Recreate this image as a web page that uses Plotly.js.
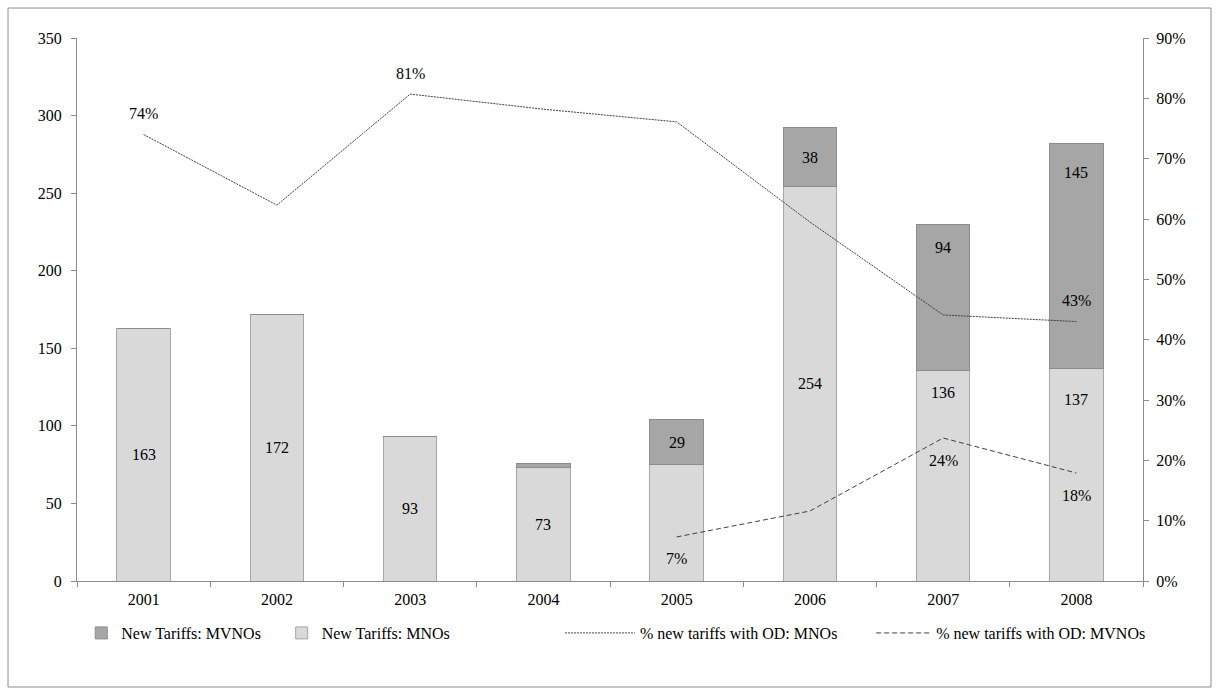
<!DOCTYPE html>
<html>
<head>
<meta charset="utf-8">
<script src="https://cdn.plot.ly/plotly-3.0.1.min.js"></script>
<style>
  html, body { margin: 0; padding: 0; background: #ffffff; }
  #chart { width: 1219px; height: 695px; }
</style>
</head>
<body>
<div id="chart"></div>
<script>
// ---- data ----
const years = ['2001', '2002', '2003', '2004', '2005', '2006', '2007', '2008'];
const mnoTariffs = [163, 172, 93, 73, 75, 254, 136, 137];
const mvnoTariffs = [0, 0, 0, 3, 29, 38, 94, 145];
const mnoBarLabelShown = [true, true, true, true, false, true, true, true];
const mvnoBarLabelShown = [false, false, false, false, true, true, true, true];
const pctOdMno = [0.74, 0.623, 0.807, 0.782, 0.761, 0.595, 0.441, 0.43];
const pctOdMvno = [null, null, null, null, 0.073, 0.116, 0.237, 0.179];
const pctMnoLabelShown = [true, false, true, false, false, false, false, true];
const pctMvnoLabelShown = [false, false, false, false, true, false, true, true];

// label offsets (pixels) for bar value labels that were moved in the original
const mnoLabelShiftPx = [0, 0, 0, 0, 0, 0, 83, 75];
const mvnoLabelShiftPx = [0, 0, 0, 0, 0, 0, 50, 83];

const FONT = 'Liberation Serif';
const AXIS_GREY = '#8c8c8c';
const TXT = { family: FONT, size: 16, color: '#000' };

const fmtPct = v => Math.round(v * 100) + '%';

const traces = [
  {
    type: 'bar', name: 'New Tariffs: MNOs', x: years, y: mnoTariffs,
    marker: { color: '#d9d9d9', line: { color: '#a6a6a6', width: 1 } },
    legend: 'legend2', hoverinfo: 'x+y'
  },
  {
    type: 'bar', name: 'New Tariffs: MVNOs', x: years, y: mvnoTariffs,
    marker: { color: '#a6a6a6', line: { color: '#8c8c8c', width: 1 } },
    legend: 'legend', hoverinfo: 'x+y'
  },
  {
    type: 'scatter', mode: 'lines', name: '% new tariffs with OD: MNOs',
    x: years, y: pctOdMno, yaxis: 'y2',
    line: { color: '#404040', width: 1, dash: '2px,1px' },
    legend: 'legend3'
  },
  {
    type: 'scatter', mode: 'lines', name: '% new tariffs with OD: MVNOs',
    x: years, y: pctOdMvno, yaxis: 'y2', connectgaps: false,
    line: { color: '#404040', width: 1, dash: '5px,3px' },
    legend: 'legend4'
  }
];

const annotations = [];
years.forEach((yr, i) => {
  if (mnoBarLabelShown[i]) {
    annotations.push({ x: i, y: mnoTariffs[i] / 2, xref: 'x', yref: 'y', text: String(mnoTariffs[i]),
      showarrow: false, yshift: mnoLabelShiftPx[i], font: TXT });
  }
  if (mvnoBarLabelShown[i]) {
    annotations.push({ x: i, y: mnoTariffs[i] + mvnoTariffs[i] / 2, xref: 'x', yref: 'y', text: String(mvnoTariffs[i]),
      showarrow: false, yshift: mvnoLabelShiftPx[i], font: TXT });
  }
  if (pctMnoLabelShown[i]) {
    annotations.push({ x: i, y: pctOdMno[i], xref: 'x', yref: 'y2', text: fmtPct(pctOdMno[i]),
      showarrow: false, yshift: 21, font: TXT });
  }
  if (pctMvnoLabelShown[i]) {
    annotations.push({ x: i, y: pctOdMvno[i], xref: 'x', yref: 'y2', text: fmtPct(pctOdMvno[i]),
      showarrow: false, yshift: -22, font: TXT });
  }
});

const legendBase = (x, itemwidth) => ({
  orientation: 'h', x: x, xanchor: 'left', y: -0.0958, yanchor: 'middle',
  bgcolor: 'rgba(0,0,0,0)', itemwidth: itemwidth, font: TXT
});

const layout = {
  width: 1219, height: 695,
  margin: { l: 77, r: 76, t: 38, b: 114 },
  paper_bgcolor: '#ffffff', plot_bgcolor: '#ffffff',
  font: TXT,
  barmode: 'stack', bargap: 0.6,
  showlegend: true,
  legend: legendBase(0.004, 30),
  legend2: legendBase(0.192, 30),
  legend3: legendBase(0.453, 70),
  legend4: legendBase(0.745, 55),
  xaxis: {
    type: 'category', range: [-0.5, years.length - 0.5], autorange: false,
    showline: true, linecolor: AXIS_GREY, linewidth: 1,
    ticks: 'outside', tickson: 'boundaries', ticklen: 5, tickcolor: AXIS_GREY,
    ticklabelstandoff: 4,
    showgrid: false, zeroline: false, tickfont: TXT
  },
  yaxis: {
    range: [0, 350], dtick: 50, showline: true, linecolor: AXIS_GREY, linewidth: 1,
    ticks: 'outside', ticklen: 5, tickcolor: AXIS_GREY, showgrid: false, zeroline: false,
    ticklabelstandoff: 6, tickfont: TXT
  },
  yaxis2: {
    overlaying: 'y', side: 'right', range: [0, 0.9], dtick: 0.1, tickformat: '.0%',
    showline: true, linecolor: AXIS_GREY, linewidth: 1,
    ticks: 'outside', ticklen: 5, tickcolor: AXIS_GREY, showgrid: false, zeroline: false,
    ticklabelstandoff: 4, tickfont: TXT
  },
  annotations: annotations,
  shapes: [{
    type: 'rect', xref: 'paper', yref: 'paper',
    x0: -0.0647, x1: 1.0638, y0: -0.1952, y1: 1.0552,
    line: { color: AXIS_GREY, width: 1 }, fillcolor: 'rgba(0,0,0,0)', layer: 'below'
  }]
};

Plotly.newPlot('chart', traces, layout, { displayModeBar: false, staticPlot: true });
</script>
</body>
</html>
